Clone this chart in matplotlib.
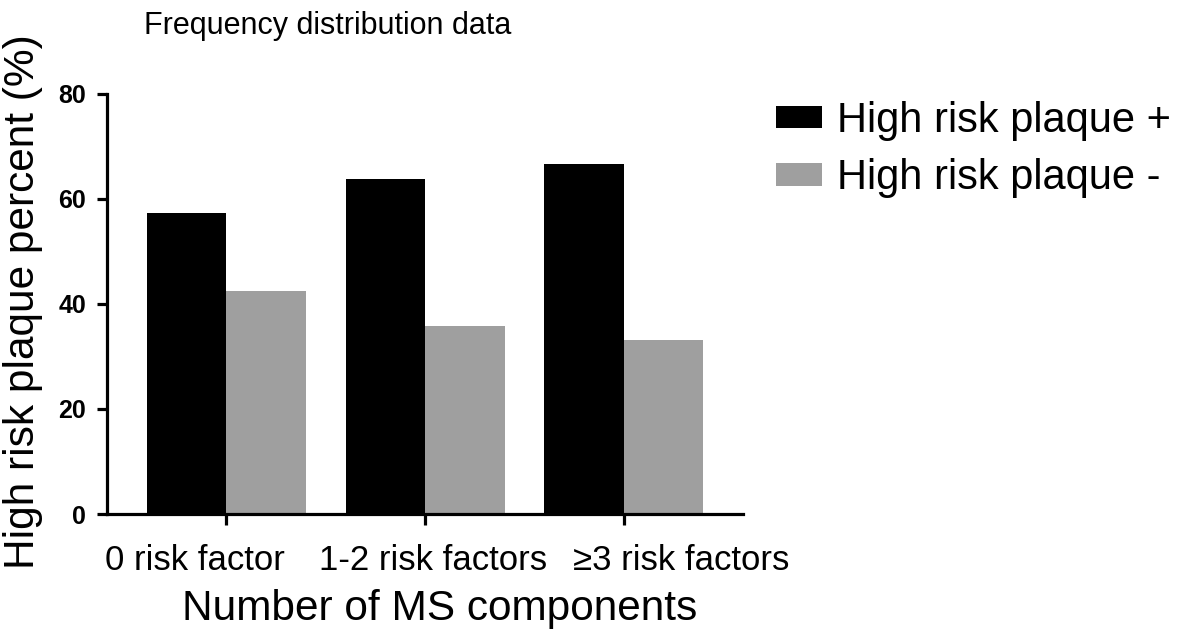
import matplotlib.pyplot as plt
import matplotlib.transforms as mtransforms
import numpy as np

# values
categories = ['0 risk factor', '1-2 risk factors', '\u22653 risk factors']
plaque_pos = [57.4, 63.9, 66.6]
plaque_neg = [42.4, 35.8, 33.1]
series_labels = ['High risk plaque +', 'High risk plaque -']
y_ticks = [0, 20, 40, 60, 80]

plt.rcParams['font.family'] = ['Liberation Sans', 'DejaVu Sans']

W, H = 1181, 639
fig = plt.figure(figsize=(W / 100, H / 100), dpi=100)
ax = fig.add_axes([107 / W, 1 - 514 / H, (743 - 107) / W, (514 - 94) / H])

x = np.arange(len(categories))
width = 0.4
ax.bar(x - width / 2, plaque_pos, width, color='black', label=series_labels[0])
ax.bar(x + width / 2, plaque_neg, width, color='#9f9f9f', label=series_labels[1])

ax.set_xlim(-0.6, 2.6)
ax.set_ylim(0, 80)
ax.set_yticks(y_ticks)
ax.set_xticks(x)
ax.set_xticklabels([''] * len(categories))
for lbl in ax.get_yticklabels():
    lbl.set_fontweight('bold')
    lbl.set_fontsize(18)

for side in ['top', 'right']:
    ax.spines[side].set_visible(False)
for side in ['left', 'bottom']:
    ax.spines[side].set_linewidth(2.3)
ax.tick_params(axis='y', width=2.3, length=7, pad=8)
ax.tick_params(axis='x', width=2.3, length=8)

# category labels sit a bit spread out from the ticks in the original
label_shift = [-0.16, 0.04, 0.29]
trans = mtransforms.blended_transform_factory(ax.transData, fig.transFigure)
for xi, name, dx in zip(x, categories, label_shift):
    ax.text(xi + dx, 1 - 570 / H, name, transform=trans, fontsize=25,
            ha='center', va='baseline', clip_on=False)

fig.text(440 / W, 1 - 620 / H, 'Number of MS components', fontsize=30.5,
         ha='center', va='baseline')
fig.text(34 / W, 1 - 302 / H, 'High risk plaque percent (%)', fontsize=30.5,
         rotation=90, rotation_mode='anchor', ha='center', va='baseline')
fig.text(328 / W, 1 - 34 / H, 'Frequency distribution data', fontsize=22,
         ha='center', va='baseline')

fig.legend(loc='upper left', bbox_to_anchor=(776 / W, 1 - 101 / H),
           frameon=False, fontsize=30, handlelength=1.1, handleheight=0.45,
           handletextpad=0.36, labelspacing=0.42, borderpad=0, borderaxespad=0)

fig.savefig('out.png', dpi=100)
